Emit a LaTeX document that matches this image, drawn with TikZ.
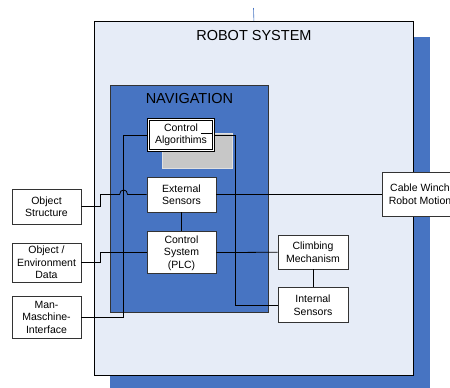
\documentclass[tikz,border=0pt]{standalone}
\usepackage{fontspec}
\setmainfont{Liberation Sans}
\usetikzlibrary{positioning}
\definecolor{navblue}{HTML}{4774C2}
\definecolor{paleblue}{HTML}{E6ECF7}
\definecolor{boxline}{HTML}{333333}
\begin{document}
\begin{tikzpicture}[x=1pt, y=-1pt, line width=0.8pt,
    block/.style={draw=boxline, fill=white, align=center, inner sep=1pt,
                  minimum width=69pt, font=\fontsize{10.5}{12.5}\selectfont},
    title/.style={font=\fontsize{14.5}{16}\selectfont}]
    \useasboundingbox (0,0) rectangle (450,388);

    % Frames
    \fill[navblue] (110,37) rectangle (430,388);
    \node[draw=black, fill=paleblue, minimum width=319pt, minimum height=354pt,
          anchor=north west] (robot) at (94,21) {};
    \node[title, below=6pt of robot.north] (rtitle) {ROBOT SYSTEM};
    \coordinate (feed) at (253.5,8);
    \node[draw=boxline, fill=navblue, minimum width=158pt, minimum height=227pt,
          anchor=north west] (nav) at (110,85) {};
    \node[title, below=5pt of nav.north] (ntitle) {NAVIGATION};

    % Blocks
    \fill[black!22, draw=black!12] (162,133) rectangle (232,168);
    \node[block, draw=black, line width=0.9pt, double=white, double distance=1.7pt,
          minimum width=65pt, minimum height=31pt] (ca) at (181,135) {Control\\Algorithims};
    \node[block, minimum height=35pt] (es) at (181.5,194.5) {External\\Sensors};
    \node[block, minimum height=42pt, below=19pt of es] (cs) {Control\\System\\(PLC)};
    \node[block, minimum height=35pt] (os) at (46.5,206.5) {Object\\Structure};
    \node[block, minimum height=39pt] (oe) at (46.5,262.5) {Object /\\Environment\\Data};
    \node[block, minimum height=42pt] (mmi) at (46.5,317) {Man-\\Maschine-\\Interface};
    \node[block, minimum width=76pt, minimum height=44pt] (cw) at (420,194) {Cable Winch\\Robot Motion};
    \node[block, minimum width=70pt, minimum height=34pt] (cm) at (313,252) {Climbing\\Mechanism};
    \node[block, minimum width=70pt, minimum height=35pt, below=18pt of cm] (is) {Internal\\Sensors};
    \draw ([shift={(-13,14)}]ca.north east) -- ++(11,0);

    % Connections
    \draw[navblue, line width=0.6pt] (feed) -- (robot.north);
    \draw (os.east) -- ++(19,0) |- ([xshift=-27pt]es.west)
          .. controls +(0,-6) and +(0,-6) .. ([xshift=-19pt]es.west) -- (es.west);
    \draw (oe.east) -- ++(19,0) |- (cs.west);
    \draw (mmi.east) -- ++(42,0) |- (ca.west);
    \draw (ca.east) -- ++(21,0) |- (is.west);
    \draw (es.east) -- (es.east -| cw.west);
    \draw (cs) -- (cm);
    \draw (es) -- (cs);
    \draw (cm) -- (is);
\end{tikzpicture}
\end{document}
